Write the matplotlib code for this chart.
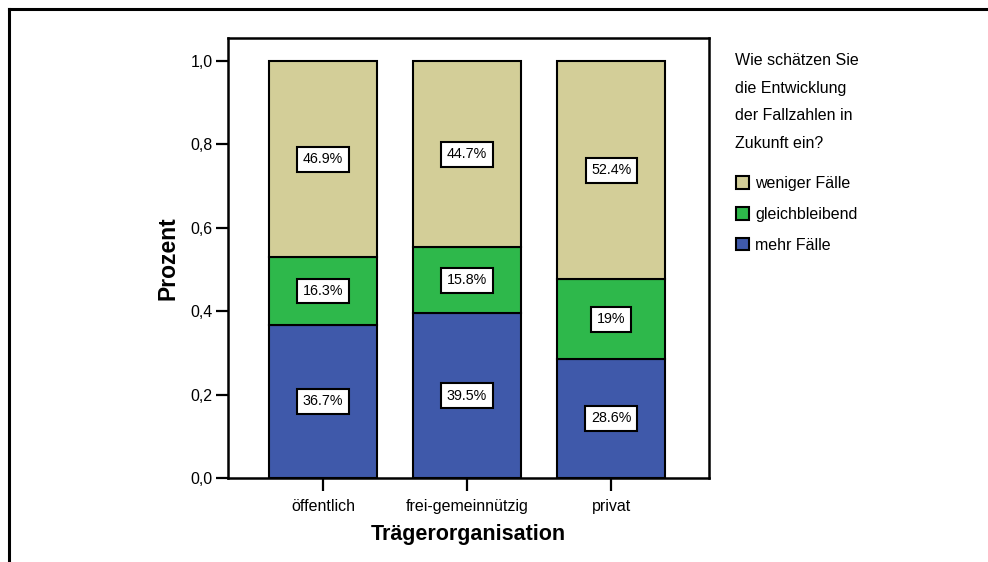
import numpy as np
import matplotlib
matplotlib.use("Agg")
import matplotlib.pyplot as plt
from matplotlib.lines import Line2D
from matplotlib.ticker import FuncFormatter

plt.rcParams['font.family'] = ['Liberation Sans', 'DejaVu Sans']

# data
categories = ["öffentlich", "frei-gemeinnützig", "privat"]
mehr = [36.7, 39.5, 28.6]
gleich = [16.3, 15.8, 19.0]
weniger = [46.9, 44.7, 52.4]
series_names = ["mehr Fälle", "gleichbleibend", "weniger Fälle"]
colors = ["#3F59AA", "#2EB84B", "#D3CE98"]
legend_title = "Wie schätzen Sie\ndie Entwicklung\nder Fallzahlen in\nZukunft ein?"

fig = plt.figure(figsize=(9.88, 5.62), dpi=100)
ax = fig.add_axes([228/988, 1-478/562, 481/988, 440/562])

x = np.arange(len(categories))
bottom = np.zeros(len(categories))
handles = []
for vals, name, col in zip([mehr, gleich, weniger], series_names, colors):
    frac = np.array(vals) / 100.0
    bars = ax.bar(x, frac, 0.75, bottom=bottom, color=col, edgecolor='black',
                  linewidth=1.5, label=name, zorder=2)
    ax.bar_label(bars, labels=[f"{v:g}%" for v in vals], label_type='center',
                 fontsize=10.3,
                 bbox=dict(boxstyle='square,pad=0.38', facecolor='white',
                           edgecolor='black', linewidth=1.5))
    bottom += frac
    handles.append(bars)

ax.set_xlim(-0.66, 2.68)
ax.set_ylim(0, 1.055)
ax.set_xticks(x)
ax.set_xticklabels(categories, fontsize=11.5)
ax.set_yticks(np.arange(0, 1.01, 0.2))
ax.yaxis.set_major_formatter(FuncFormatter(lambda v, p: f"{v:.1f}".replace('.', ',')))
ax.tick_params(axis='both', direction='out', length=9, width=1.6, labelsize=11.5)
ax.tick_params(axis='x', pad=6)
ax.tick_params(axis='y', pad=2)
for s in ax.spines.values():
    s.set_linewidth(1.8)

ax.set_xlabel("Trägerorganisation", fontsize=15.5, fontweight='bold', labelpad=7)
ax.set_ylabel("Prozent", fontsize=16.5, fontweight='bold', labelpad=8)

# legend
fig.text(735/988, 1-53/562, legend_title, fontsize=11.5, va='top', ha='left',
         linespacing=2.05)
fig.legend(handles[::-1], series_names[::-1], loc='upper left',
           bbox_to_anchor=(728/988, 1-168/562), frameon=False, borderpad=0,
           fontsize=11.5, handlelength=0.8, handleheight=0.8,
           handletextpad=0.4, labelspacing=1.0)

# outer frame (top and left lines)
fig.add_artist(Line2D([9/988, 1.0], [1-8.5/562, 1-8.5/562], color='black',
                      linewidth=2.2, transform=fig.transFigure))
fig.add_artist(Line2D([9/988, 9/988], [0.0, 1-8.5/562], color='black',
                      linewidth=2.2, transform=fig.transFigure))

fig.savefig("out.png", dpi=100)
